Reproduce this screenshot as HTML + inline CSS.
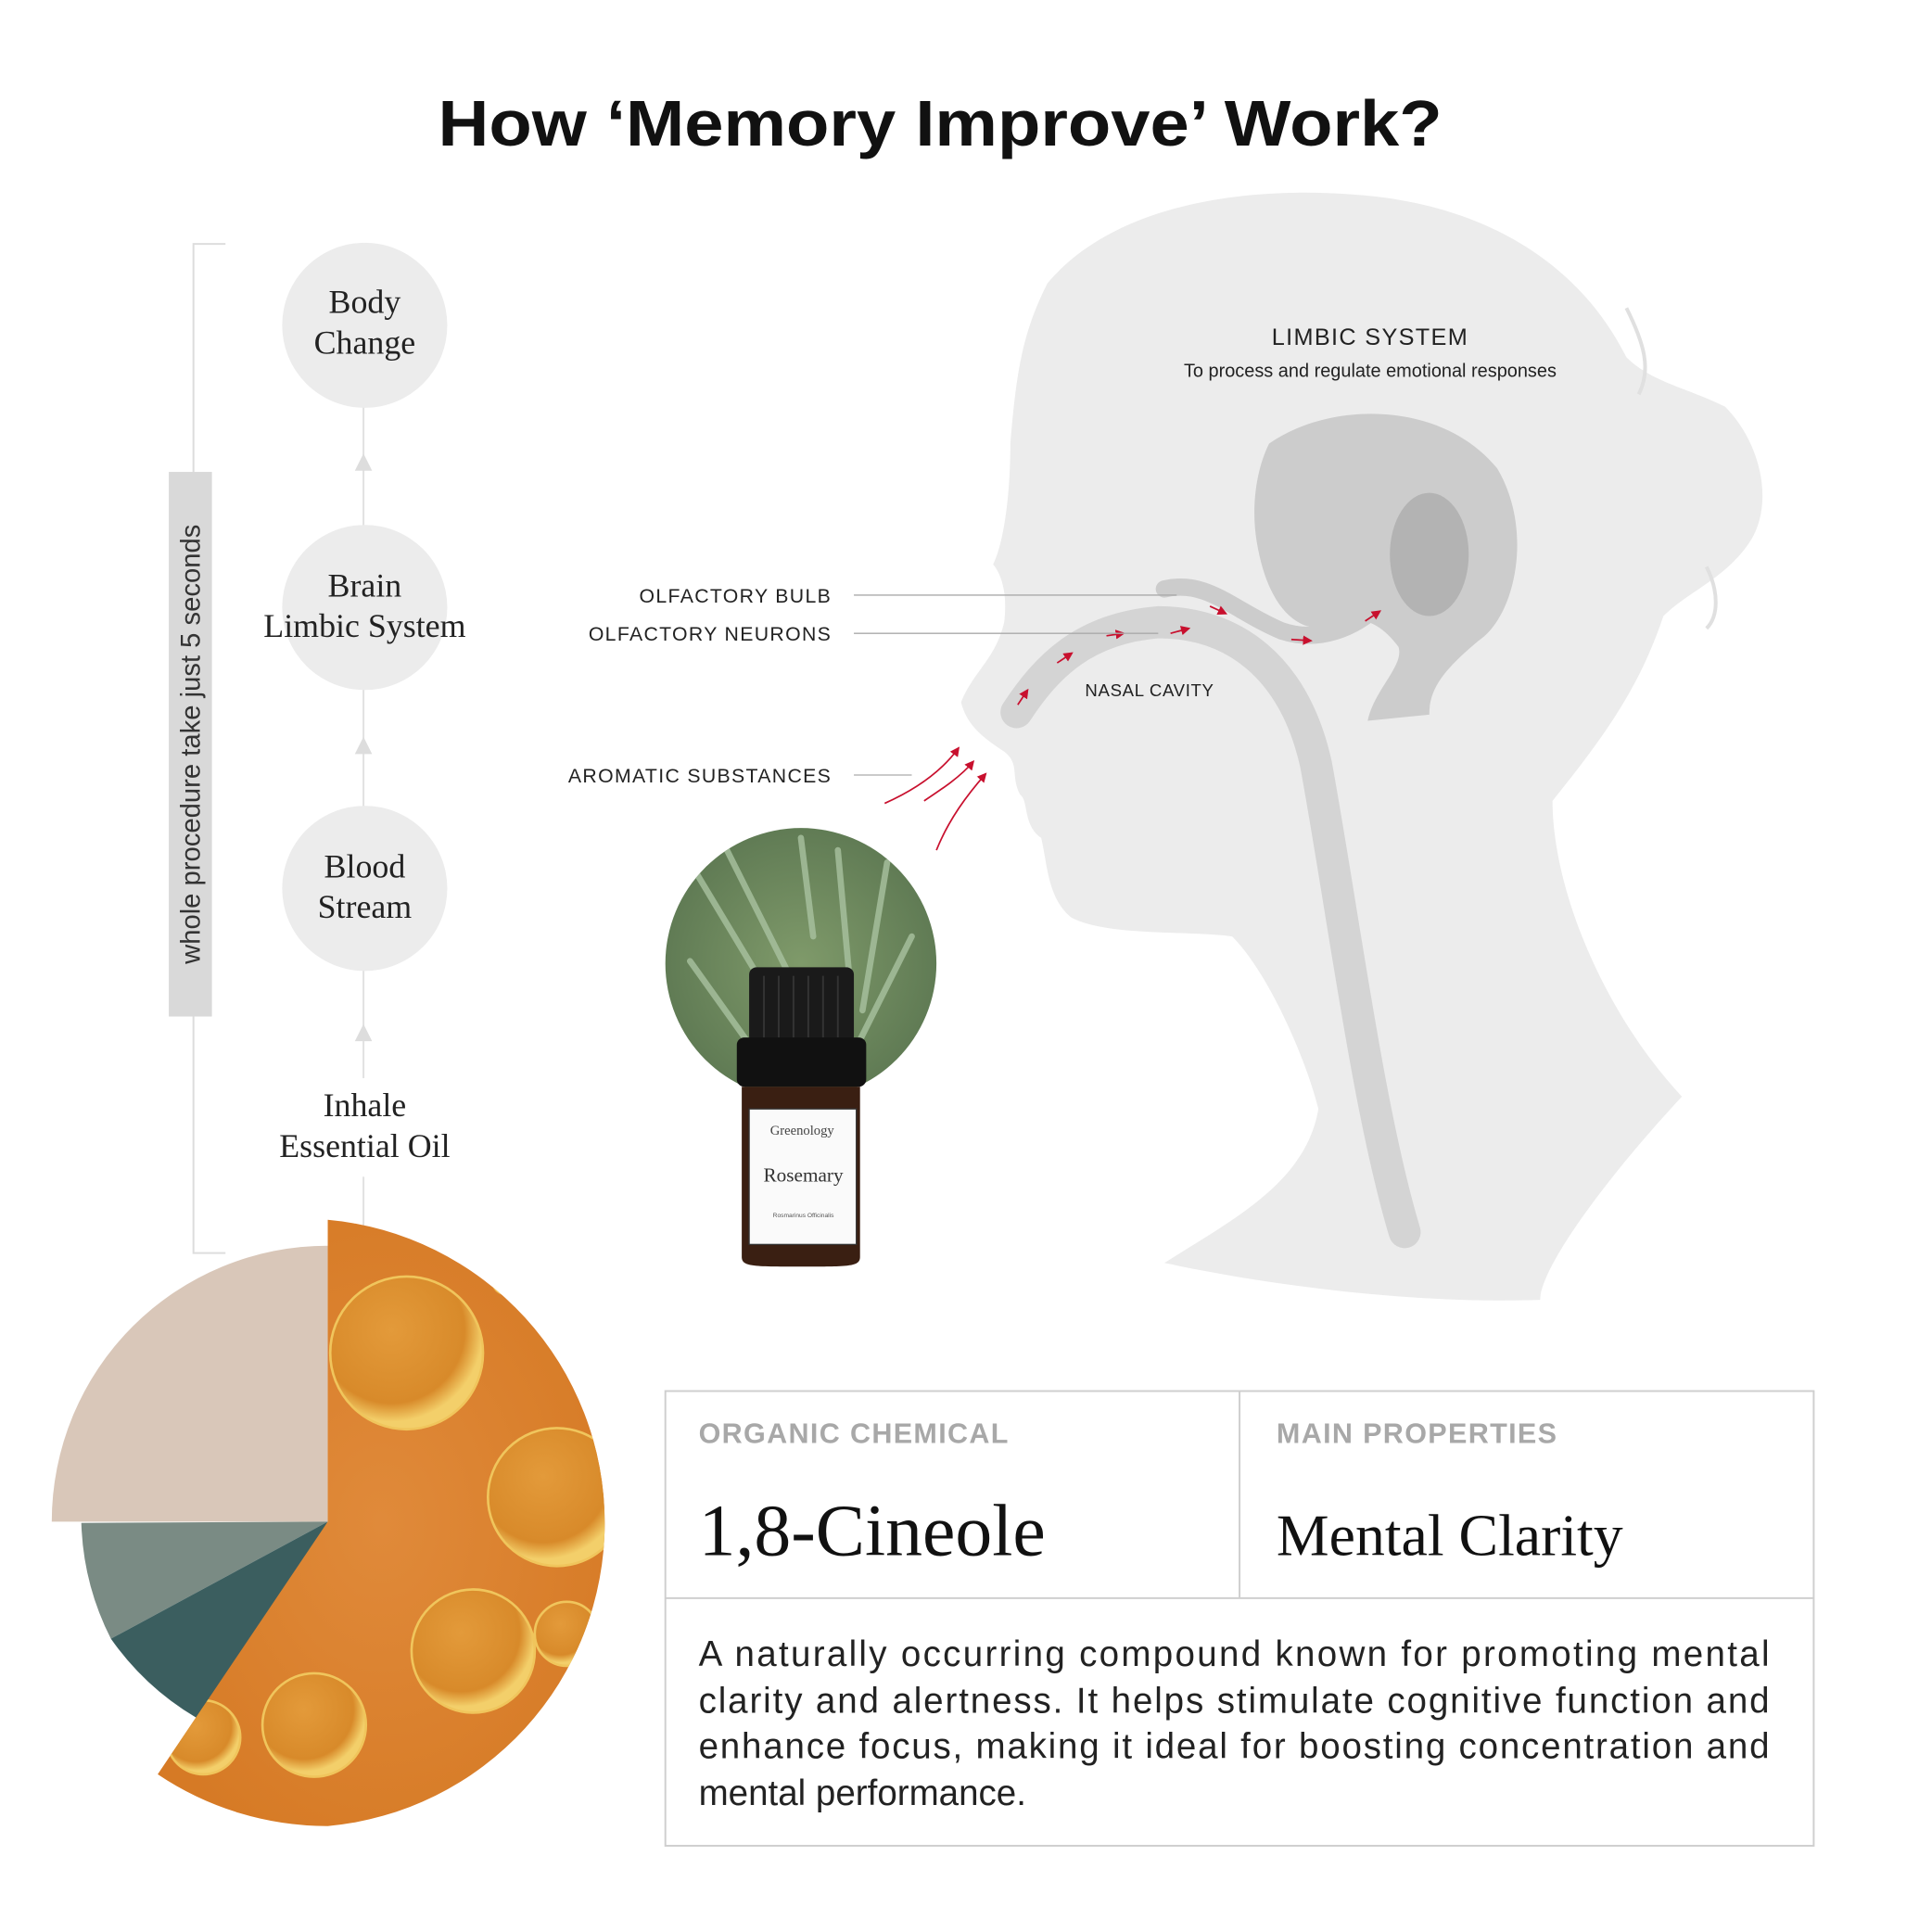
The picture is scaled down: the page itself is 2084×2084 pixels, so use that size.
<!DOCTYPE html>
<html><head><meta charset="utf-8"><style>
html,body{margin:0;padding:0;background:#fff}
svg{display:block}
</style></head><body>
<svg width="2084" height="2084" viewBox="0 0 1568 1568" xmlns="http://www.w3.org/2000/svg">
<defs>
<radialGradient id="og" cx="0.5" cy="0.5" r="0.6"><stop offset="0" stop-color="#e08a3a"/><stop offset="1" stop-color="#d67a25"/></radialGradient>
<radialGradient id="bub" cx="0.4" cy="0.35" r="0.6"><stop offset="0" stop-color="#e39a3a"/><stop offset="0.8" stop-color="#d88a2a"/><stop offset="1" stop-color="#f3cf6a"/></radialGradient>
<radialGradient id="grn" cx="0.5" cy="0.5" r="0.6"><stop offset="0" stop-color="#7f9a6a"/><stop offset="1" stop-color="#5a7550"/></radialGradient>
<marker id="ar" markerWidth="6" markerHeight="6" refX="5" refY="3" orient="auto"><path d="M0,0 L6,3 L0,6 z" fill="#c8102e"/></marker>
<clipPath id="cc"><circle cx="650" cy="782" r="110"/></clipPath>
</defs>
<rect width="1568" height="1568" fill="#fff"/>
<text x="763" y="118" text-anchor="middle" font-family="Liberation Sans, sans-serif" font-weight="bold" font-size="52" fill="#111" textLength="815" lengthAdjust="spacingAndGlyphs">How ‘Memory Improve’ Work?</text>

<path d="M945,1025 C1000,990 1060,960 1070,900 C1060,860 1030,790 1000,760 C960,755 900,760 870,745 C850,730 850,700 845,680 C830,670 835,650 828,645 C820,630 828,620 815,610 C800,600 785,590 780,570 C790,545 808,535 815,505 C818,480 812,465 806,458 C815,440 820,400 820,360 C825,300 830,270 850,230 C900,170 1000,150 1100,158 C1200,165 1280,210 1320,290 C1340,310 1370,315 1400,330 C1430,360 1440,410 1420,440 C1400,470 1370,480 1350,500 C1330,560 1300,600 1260,650 C1260,720 1300,820 1365,890 C1300,960 1250,1030 1250,1055 C1150,1058 1040,1045 945,1025 Z" fill="#ececec"/>
<path d="M1320,250 C1335,280 1340,300 1330,320 M1385,460 C1395,480 1395,500 1385,510" stroke="#e0e0e0" stroke-width="3" fill="none"/>
<path d="M825,578 C850,540 880,510 940,505 C1000,505 1050,540 1068,620 C1090,740 1110,900 1140,1000" stroke="#d4d4d4" stroke-width="26" fill="none" stroke-linecap="round"/>
<path d="M1030,360 C1080,325 1170,325 1215,380 C1245,430 1230,500 1200,520 C1170,545 1160,560 1160,580 L1110,585 C1115,560 1140,540 1135,525 C1120,505 1105,500 1090,505 C1060,520 1030,500 1020,440 C1015,410 1020,380 1030,360 Z" fill="#cccccc"/>
<ellipse cx="1160" cy="450" rx="32" ry="50" fill="#b3b3b3"/>
<path d="M945,478 C980,470 1000,495 1040,512 C1070,522 1100,510 1120,490" stroke="#cccccc" stroke-width="14" fill="none" stroke-linecap="round"/>
<g stroke="#c8102e" stroke-width="1.3" fill="none" marker-end="url(#ar)">
<path d="M826,572 L834,560"/><path d="M858,538 L870,530"/><path d="M898,516 L912,514"/><path d="M950,514 L965,510"/><path d="M982,492 L995,498"/><path d="M1048,519 L1064,520"/><path d="M1108,504 L1120,496"/>
<path d="M718,652 C745,640 765,625 778,607"/><path d="M750,650 C765,640 780,630 790,618"/><path d="M760,690 C770,665 785,645 800,628"/>
</g>
<g font-family="Liberation Sans, sans-serif" fill="#222">
<text x="1112" y="280" text-anchor="middle" font-size="19" letter-spacing="1">LIMBIC SYSTEM</text>
<text x="1112" y="306" text-anchor="middle" font-size="15">To process and regulate emotional responses</text>
<text x="675" y="489" text-anchor="end" font-size="16" letter-spacing="1">OLFACTORY BULB</text>
<text x="675" y="520" text-anchor="end" font-size="16" letter-spacing="1">OLFACTORY NEURONS</text>
<text x="675" y="635" text-anchor="end" font-size="16" letter-spacing="1">AROMATIC SUBSTANCES</text>
<text x="933" y="565" text-anchor="middle" font-size="14" letter-spacing="0.5">NASAL CAVITY</text>
</g>
<g stroke="#aaa" stroke-width="1"><line x1="693" y1="483" x2="955" y2="483"/><line x1="693" y1="514" x2="940" y2="514"/><line x1="693" y1="629" x2="740" y2="629"/></g>

<path d="M183,198 L157,198 L157,1017 L183,1017" stroke="#ddd" stroke-width="1.5" fill="none"/>
<rect x="137" y="383" width="35" height="442" fill="#d9d9d9"/>
<text transform="translate(162,604) rotate(-90)" text-anchor="middle" font-family="Liberation Sans, sans-serif" font-size="22" fill="#333">whole procedure take just 5 seconds</text>
<line x1="295" y1="330" x2="295" y2="1000" stroke="#e2e2e2" stroke-width="1.5"/>
<g fill="#ddd"><path d="M288,382 L295,368 L302,382z"/><path d="M288,612 L295,598 L302,612z"/><path d="M288,845 L295,831 L302,845z"/></g>
<g fill="#ececec"><circle cx="296" cy="264" r="67"/><circle cx="296" cy="493" r="67"/><circle cx="296" cy="721" r="67"/></g>
<rect x="220" y="875" width="155" height="80" fill="#fff"/>
<g font-family="Liberation Serif, serif" font-size="27" fill="#222" text-anchor="middle">
<text x="296" y="254">Body</text><text x="296" y="287">Change</text>
<text x="296" y="484">Brain</text><text x="296" y="517">Limbic System</text>
<text x="296" y="712">Blood</text><text x="296" y="745">Stream</text>
<text x="296" y="906">Inhale</text><text x="296" y="939">Essential Oil</text>
</g>

<circle cx="650" cy="782" r="110" fill="url(#grn)"/>
<g clip-path="url(#cc)" stroke="#a9c2a0" stroke-width="5" stroke-linecap="round" opacity="0.8">
<path d="M560,700 L620,800"/><path d="M590,690 L640,790"/><path d="M680,690 L690,800"/><path d="M720,700 L700,820"/><path d="M740,760 L690,860"/><path d="M560,780 L610,850"/><path d="M650,680 L660,760"/>
</g>
<rect x="608" y="785" width="85" height="62" rx="6" fill="#1a1a1a"/>
<g stroke="#333" stroke-width="1.5"><line x1="620" y1="792" x2="620" y2="842"/><line x1="632" y1="792" x2="632" y2="842"/><line x1="644" y1="792" x2="644" y2="842"/><line x1="656" y1="792" x2="656" y2="842"/><line x1="668" y1="792" x2="668" y2="842"/><line x1="680" y1="792" x2="680" y2="842"/></g>
<rect x="598" y="842" width="105" height="40" rx="6" fill="#111"/>
<path d="M602,882 L698,882 L698,1020 C698,1028 690,1028 650,1028 C610,1028 602,1028 602,1020 Z" fill="#3a1f12"/>
<rect x="608" y="900" width="87" height="110" fill="#fafafa" stroke="#333" stroke-width="1"/>
<text x="651" y="921" text-anchor="middle" font-family="Liberation Serif, serif" font-size="11" fill="#444">Greenology</text>
<text x="652" y="959" text-anchor="middle" font-family="Liberation Serif, serif" font-size="16" fill="#333">Rosemary</text>
<text x="652" y="988" text-anchor="middle" font-family="Liberation Sans, sans-serif" font-size="5" fill="#555">Rosmarinus Officinalis</text>

<path d="M266,1235 L42,1235 A224,224 0 0 1 266,1011 Z" fill="#d9c7b9"/>
<path d="M266,1235 L66,1236 A222,222 0 0 0 90,1330 Z" fill="#7a8b84"/>
<path d="M266,1235 L90,1330 A225,225 0 0 0 170,1400 Z" fill="#3b5e5f"/>
<path d="M266,990 A247,247 0 0 1 266,1482 A247,247 0 0 1 128,1440 L266,1235 Z" fill="url(#og)"/>
<clipPath id="pc"><path d="M266,990 A247,247 0 0 1 266,1482 A247,247 0 0 1 128,1440 L266,1235 Z"/></clipPath>
<g fill="url(#bub)" stroke="#f0c55c" stroke-width="2" clip-path="url(#pc)">
<circle cx="330" cy="1098" r="62"/><circle cx="452" cy="1215" r="56"/><circle cx="384" cy="1340" r="50"/><circle cx="460" cy="1326" r="26"/><circle cx="255" cy="1400" r="42"/><circle cx="165" cy="1410" r="30"/><circle cx="410" cy="1040" r="10"/>
</g>

<g stroke="#cfcfcf" stroke-width="1.5" fill="none">
<rect x="540" y="1129" width="932" height="369"/>
<line x1="1006" y1="1129" x2="1006" y2="1297"/>
<line x1="540" y1="1297" x2="1472" y2="1297"/>
</g>
<g font-family="Liberation Sans, sans-serif" font-weight="bold" font-size="23" fill="#a8a8a8" letter-spacing="1">
<text x="567" y="1171">ORGANIC CHEMICAL</text><text x="1036" y="1171">MAIN PROPERTIES</text>
</g>
<text x="567" y="1262" font-family="Liberation Serif, serif" font-size="60" fill="#111">1,8-Cineole</text>
<text x="1036" y="1262" font-family="Liberation Serif, serif" font-size="48" fill="#111">Mental Clarity</text>
<g font-family="Liberation Sans, sans-serif" font-size="29" fill="#222">
<text x="567" y="1352" textLength="869" lengthAdjust="spacing">A naturally occurring compound known for promoting mental</text>
<text x="567" y="1390" textLength="869" lengthAdjust="spacing">clarity and alertness. It helps stimulate cognitive function and</text>
<text x="567" y="1427" textLength="869" lengthAdjust="spacing">enhance focus, making it ideal for boosting concentration and</text>
<text x="567" y="1465">mental performance.</text>
</g>
</svg>
</body></html>
